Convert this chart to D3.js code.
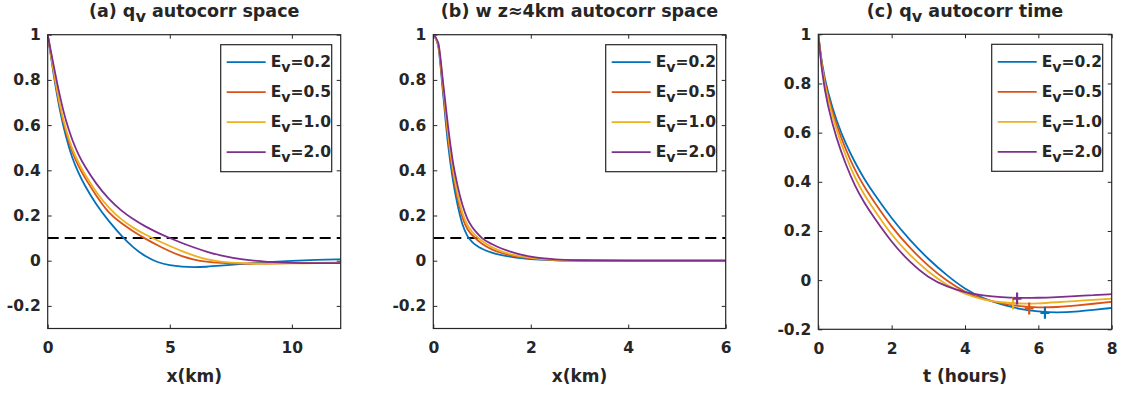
<!DOCTYPE html>
<html>
<head>
<meta charset="utf-8">
<script src="https://cdn.jsdelivr.net/npm/d3@7"></script>
<style>
body { margin: 0; background: #fff; }
text { font-family: "DejaVu Sans", sans-serif; font-weight: bold; fill: #262626; }
</style>
</head>
<body>
<svg id="fig" width="1127" height="393"></svg>
<script>
// series
var evNames = ["0.2", "0.5", "1.0", "2.0"];
var evColors = ["#0072BD", "#D95319", "#EDB120", "#7E2F8E"];

// (a) qv autocorrelation in space
var xSpaceA = [0,0.25,0.5,0.75,1,1.25,1.5,2,2.5,3,3.5,4,4.5,5,5.5,6,6.5,7,8,9,10,11,12];
var qvSpace02 = [1,0.815,0.66,0.545,0.455,0.39,0.335,0.245,0.175,0.112,0.058,0.018,-0.008,-0.021,-0.027,-0.029,-0.027,-0.023,-0.014,-0.006,0.0,0.004,0.006];
var qvSpace05 = [1,0.83,0.675,0.565,0.48,0.42,0.37,0.285,0.21,0.167,0.13,0.097,0.068,0.041,0.019,0.004,-0.005,-0.01,-0.014,-0.013,-0.011,-0.01,-0.009];
var qvSpace10 = [1,0.835,0.685,0.575,0.495,0.435,0.385,0.3,0.233,0.183,0.145,0.115,0.089,0.065,0.042,0.022,0.006,-0.004,-0.012,-0.013,-0.012,-0.011,-0.01];
var qvSpace20 = [1,0.86,0.725,0.615,0.535,0.47,0.42,0.337,0.272,0.222,0.183,0.151,0.124,0.1,0.078,0.058,0.04,0.025,0.004,-0.006,-0.01,-0.011,-0.011];

// (b) w at z~4km autocorrelation in space
var xSpaceB = [0,0.1,0.2,0.3,0.4,0.5,0.6,0.7,0.8,0.9,1.0,1.2,1.4,1.6,1.8,2.0,2.5,3,4,5,6];
var wSpace02 = [1,0.95,0.74,0.52,0.36,0.245,0.16,0.11,0.082,0.065,0.053,0.036,0.025,0.017,0.011,0.007,0.002,0,0,0,0];
var wSpace05 = [1,0.955,0.76,0.55,0.39,0.275,0.19,0.14,0.113,0.092,0.075,0.05,0.034,0.023,0.016,0.01,0.003,0.001,0,0,0];
var wSpace10 = [1,0.96,0.775,0.57,0.41,0.295,0.21,0.158,0.127,0.105,0.087,0.06,0.041,0.028,0.019,0.013,0.004,0.001,0,0,0];
var wSpace20 = [1,0.965,0.79,0.6,0.44,0.33,0.245,0.185,0.148,0.122,0.1,0.074,0.054,0.039,0.027,0.018,0.006,0.002,0,0,0];

// (c) qv autocorrelation in time
var tHours = [0,0.1,0.25,0.5,0.75,1,1.25,1.5,2,2.5,3,3.5,4,4.5,5,5.5,6,6.5,7,7.5,8];
var qvTime02 = [1,0.875,0.768,0.645,0.553,0.478,0.412,0.355,0.25,0.162,0.085,0.02,-0.037,-0.075,-0.1,-0.118,-0.128,-0.132,-0.129,-0.121,-0.113];
var qvTime05 = [1,0.865,0.752,0.628,0.53,0.447,0.38,0.323,0.215,0.13,0.057,-0.003,-0.05,-0.078,-0.095,-0.107,-0.112,-0.11,-0.104,-0.096,-0.088];
var qvTime10 = [1,0.855,0.738,0.608,0.503,0.415,0.348,0.291,0.182,0.1,0.033,-0.02,-0.058,-0.08,-0.091,-0.096,-0.095,-0.09,-0.085,-0.08,-0.075];
var qvTime20 = [1,0.84,0.71,0.573,0.47,0.382,0.315,0.259,0.153,0.072,0.01,-0.027,-0.05,-0.063,-0.07,-0.073,-0.072,-0.069,-0.065,-0.061,-0.057];
// minima marked with +
var minT = [6.18, 5.75, 5.31, 5.42];
var minVal = [-0.133, -0.115, -0.095, -0.075];

var threshold = 0.1;

var svg = d3.select("#fig");

var panels = [
    {
        left: 47.7, right: 340.7, top: 34.7, bottom: 328.5,
        xDomain: [0, 12], yDomain: [-0.3, 1],
        xTicks: [0, 5, 10], yTicks: [-0.2, 0, 0.2, 0.4, 0.6, 0.8, 1],
        xs: xSpaceA, series: [qvSpace02, qvSpace05, qvSpace10, qvSpace20],
        title: [["(a) q", 0], ["v", 1], [" autocorr space", 0]],
        xlabel: "x(km)", dashed: true, curve: d3.curveBasis
    },
    {
        left: 433.3, right: 725.7, top: 34.7, bottom: 328.5,
        xDomain: [0, 6], yDomain: [-0.3, 1],
        xTicks: [0, 2, 4, 6], yTicks: [-0.2, 0, 0.2, 0.4, 0.6, 0.8, 1],
        xs: xSpaceB, series: [wSpace02, wSpace05, wSpace10, wSpace20],
        title: [["(b) w z\u22484km autocorr space", 0]],
        xlabel: "x(km)", dashed: true, curve: d3.curveMonotoneX
    },
    {
        left: 818.3, right: 1111.7, top: 34.3, bottom: 329.3,
        xDomain: [0, 8], yDomain: [-0.2, 1],
        xTicks: [0, 2, 4, 6, 8], yTicks: [-0.2, 0, 0.2, 0.4, 0.6, 0.8, 1],
        xs: tHours, series: [qvTime02, qvTime05, qvTime10, qvTime20],
        title: [["(c) q", 0], ["v", 1], [" autocorr time", 0]],
        xlabel: "t (hours)", dashed: false, markers: true, curve: d3.curveBasis
    }
];

function fmt(d) { return d === 0 ? "0" : String(+d.toFixed(1)); }

function subText(sel, parts, shift) {
    parts.forEach(function(p, i) {
        var prevSub = i > 0 && parts[i - 1][1];
        var t = sel.append("tspan").text(p[0]);
        if (p[1]) t.attr("dy", shift).style("font-size", "0.92em");
        else if (prevSub) t.attr("dy", -shift);
    });
}

panels.forEach(function(p) {
    var x = d3.scaleLinear().domain(p.xDomain).range([p.left, p.right]);
    var y = d3.scaleLinear().domain(p.yDomain).range([p.bottom, p.top]);
    var g = svg.append("g");

    // axes, ticks pointing inward on all four sides
    var ax = [
        [d3.axisBottom(x).tickValues(p.xTicks).tickFormat(fmt).tickPadding(13.5), p.bottom, 0],
        [d3.axisTop(x).tickValues(p.xTicks).tickFormat(""), p.top, 0],
        [d3.axisLeft(y).tickValues(p.yTicks).tickFormat(fmt).tickPadding(7), 0, p.left],
        [d3.axisRight(y).tickValues(p.yTicks).tickFormat(""), 0, p.right]
    ];
    ax.forEach(function(a) {
        var ag = g.append("g")
                  .attr("transform", "translate(" + a[2] + "," + a[1] + ")")
                  .call(a[0].tickSizeInner(-4).tickSizeOuter(0));
        ag.select(".domain").remove();
        ag.selectAll("line").attr("stroke", "#262626");
        ag.selectAll("text").style("font-size", "15.5px").attr("fill", "#262626")
          .style("font-family", "DejaVu Sans").style("font-weight", "bold");
    });

    var clipId = "clip" + Math.round(p.left);
    svg.append("clipPath").attr("id", clipId).append("rect")
       .attr("x", p.left).attr("y", p.top)
       .attr("width", p.right - p.left).attr("height", p.bottom - p.top);

    var plot = g.append("g").attr("clip-path", "url(#" + clipId + ")");

    if (p.dashed) {
        plot.append("line")
            .attr("x1", x(p.xDomain[0])).attr("x2", x(p.xDomain[1]))
            .attr("y1", y(threshold)).attr("y2", y(threshold))
            .attr("stroke", "#000").attr("stroke-width", 2)
            .attr("stroke-dasharray", "11,6");
    }

    var line = d3.line()
                 .x(function(d) { return x(d[0]); })
                 .y(function(d) { return y(d[1]); })
                 .curve(p.curve);

    p.series.forEach(function(s, i) {
        plot.append("path")
            .datum(p.xs.map(function(v, k) { return [v, s[k]]; }))
            .attr("d", line)
            .attr("fill", "none")
            .attr("stroke", evColors[i])
            .attr("stroke-width", 1.8);
    });

    if (p.markers) {
        minT.forEach(function(t, i) {
            var cx = x(t), cy = y(minVal[i]);
            plot.append("path")
                .attr("d", "M" + (cx - 4.5) + "," + cy + "H" + (cx + 4.5) + "M" + cx + "," + (cy - 6) + "V" + (cy + 6))
                .attr("stroke", evColors[i])
                .attr("stroke-width", 2.2);
        });
    }

    g.append("rect")
     .attr("x", p.left).attr("y", p.top)
     .attr("width", p.right - p.left).attr("height", p.bottom - p.top)
     .attr("fill", "none").attr("stroke", "#262626").attr("stroke-width", 1.2);

    // title
    var title = g.append("text")
                 .attr("x", (p.left + p.right) / 2)
                 .attr("y", 17)
                 .attr("text-anchor", "middle")
                 .style("font-size", "17.5px")
                 .attr("fill", "#111");
    subText(title, p.title, 5);

    // x label
    g.append("text")
     .attr("x", (p.left + p.right) / 2)
     .attr("y", 382)
     .attr("text-anchor", "middle")
     .style("font-size", "17px")
     .text(p.xlabel);

    // legend
    var lgW = 111, lgH = 127;
    var lgX = p.right - 9 - lgW, lgY = p.top + 10;
    var lg = g.append("g");
    lg.append("rect")
      .attr("x", lgX).attr("y", lgY).attr("width", lgW).attr("height", lgH)
      .attr("fill", "#fff").attr("stroke", "#262626").attr("stroke-width", 1.2);
    evNames.forEach(function(n, i) {
        var ry = lgY + 17.5 + i * 30;
        lg.append("line")
          .attr("x1", lgX + 6).attr("x2", lgX + 45)
          .attr("y1", ry).attr("y2", ry)
          .attr("stroke", evColors[i]).attr("stroke-width", 1.8);
        var t = lg.append("text")
                  .attr("x", lgX + 50).attr("y", ry + 5)
                  .style("font-size", "15.5px");
        subText(t, [["E", 0], ["v", 1], ["=" + n, 0]], 5);
    });
});
</script>
</body>
</html>
